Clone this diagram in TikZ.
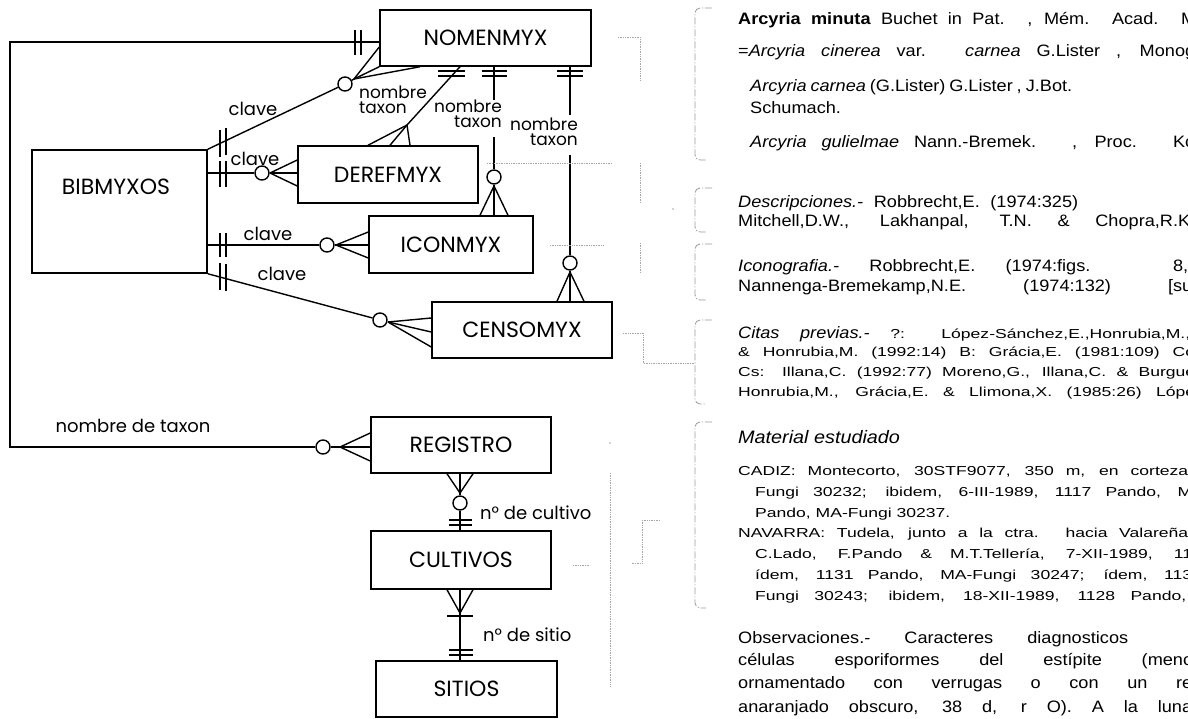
\documentclass[tikz,border=0pt]{standalone}
\usepackage{fontspec}
\setmainfont{Poppins}
\newfontfamily\rf[FakeStretch=1.1]{Liberation Sans}
\newfontfamily\rfs[FakeStretch=1.35]{Liberation Sans}
\usetikzlibrary{calc}
\begin{document}
\begin{tikzpicture}[x=1pt,y=-1pt,
  ent/.style={draw, line width=1.5pt, inner sep=0pt, font=\fontsize{22}{22}\selectfont},
  lbl/.style={font=\fontsize{18}{14}\selectfont, inner sep=0pt},
  nt/.style={font=\fontsize{17}{15}\selectfont, inner sep=0pt},
  ln/.style={line width=1.4pt},
  opt/.style={circle, draw, line width=1.4pt, minimum size=14pt, inner sep=0pt, fill=white},
  faint/.style={draw=black!35, line width=0.7pt, densely dotted},
  brk/.style={draw=black!40, line width=0.8pt, dash pattern=on 7pt off 2pt on 1pt off 2pt, rounded corners=5pt},
  rt/.style={font=\rf\fontsize{16.5}{18}\selectfont, inner sep=0pt, anchor=base west},
  rs/.style={font=\rfs\fontsize{13}{15}\selectfont, inner sep=0pt, anchor=base west}]
\useasboundingbox (0,0) rectangle (1188,718);
\clip (0,0) rectangle (1188,718);
\fill[white] (0,0) rectangle (1188,718);

% entities
\node[ent, minimum width=211pt, minimum height=56pt] (nomen) at (485.5,38) {NOMENMYX};
\node[ent, minimum width=175pt, minimum height=123pt] (bib) at (119.5,211.5) {};
\node[inner sep=0pt, font=\fontsize{22}{22}\selectfont] (bibt) at (116,187) {BIBMYXOS};
\node[ent, minimum width=180pt, minimum height=57pt] (deref) at (388,174.5) {DEREFMYX};
\node[ent, minimum width=164pt, minimum height=57pt] (icon) at (451,244.5) {ICONMYX};
\node[ent, minimum width=180pt, minimum height=56pt] (censo) at (522,330) {CENSOMYX};
\node[ent, minimum width=180pt, minimum height=56pt] (registro) at (461,445) {REGISTRO};
\node[ent, minimum width=180pt, minimum height=58pt] (cultivos) at (461,560) {CULTIVOS};
\node[ent, minimum width=181pt, minimum height=56pt] (sitios) at (466.5,689) {SITIOS};

% optional circles
\node[opt] (o1) at (345,84) {};
\node[opt] (o2) at (262,173) {};
\node[opt] (o3) at (327,245) {};
\node[opt] (o4) at (380,320) {};
\node[opt] (o5) at (323,447) {};
\node[opt] (o6) at (494,177) {};
\node[opt] (o7) at (570,263) {};
\node[opt] (o8) at (460,503) {};

% fork points and free ends
\coordinate (f1) at (354,79);
\coordinate (f2) at (270,173);
\coordinate (f3) at (336,245);
\coordinate (f4) at (388,322);
\coordinate (f5) at (340,447);
\coordinate (f6) at (407,125);
\coordinate (f7) at (494,186);
\coordinate (f8) at (570,272);
\coordinate (f9) at (460,493);
\coordinate (f10) at (460,613);
\coordinate (g1) at (494,100);
\coordinate (g2) at (494,137);
\coordinate (g3) at (570,115);
\coordinate (g4) at (570,155);

% NOMENMYX - REGISTRO (nombre de taxon)
\draw[ln] (nomen.west |- 0,42) -| (10,447) -- (o5);
\draw[ln] (o5) -- (registro.west |- 0,447);
\draw[ln] (f5) -- (registro.west |- 0,433);
\draw[ln] (f5) -- (registro.west |- 0,461);
\draw[ln] (355,30) -- (355,55) (361,30) -- (361,55);
\node[lbl, anchor=base] (ndt) at (133,432) {nombre de taxon};

% BIBMYXOS - NOMENMYX
\draw[ln] (bib.north east) -- (o1);
\draw[ln] (o1) -- (f1) -- (nomen.west |- 0,47);
\draw[ln] (f1) -- (nomen.south west);
\draw[ln] (f1) -- (420,0 |- nomen.south);
\draw[ln] (220,130) -- (220,157) (226,128) -- (226,155);
\node[lbl, anchor=base] (k1) at (253,115) {clave};

% BIBMYXOS - DEREFMYX
\draw[ln] (bib.east |- 0,173) -- (o2);
\draw[ln] (o2) -- (deref.west |- 0,173);
\draw[ln] (f2) -- (deref.west |- 0,160);
\draw[ln] (f2) -- (deref.west |- 0,186);
\draw[ln] (220,161) -- (220,187) (226,161) -- (226,187);
\node[lbl, anchor=base] (k2) at (255,165) {clave};

% BIBMYXOS - ICONMYX
\draw[ln] (bib.east |- 0,245) -- (o3);
\draw[ln] (o3) -- (icon.west |- 0,245);
\draw[ln] (f3) -- (icon.west |- 0,232);
\draw[ln] (f3) -- (icon.west |- 0,258);
\draw[ln] (220,233) -- (220,257) (226,233) -- (226,257);
\node[lbl, anchor=base] (k3) at (268,240) {clave};

% BIBMYXOS - CENSOMYX
\draw[ln] (bib.south east) -- (o4);
\draw[ln] (f4) -- (censo.west |- 0,318);
\draw[ln] (f4) -- (censo.west |- 0,332);
\draw[ln] (f4) -- (censo.west |- 0,347);
\draw[ln] (220,263) -- (220,290) (226,264) -- (226,291);
\node[lbl, anchor=base] (k4) at (282,280) {clave};

% NOMENMYX - DEREFMYX
\draw[ln] (460,0 |- nomen.south) -- (f6);
\draw[ln] (f6) -- (368,0 |- deref.north);
\draw[ln] (f6) -- (390,0 |- deref.north);
\draw[ln] (f6) -- (410,0 |- deref.north);
\draw[ln] (438,71) -- (465,71) (438,76) -- (465,76);
\node[nt, align=left, anchor=north west] (ntA) at (359,86) {nombre\\taxon};

% NOMENMYX - ICONMYX
\draw[ln] (494,0 |- nomen.south) -- (g1);
\draw[ln] (g2) -- (o6);
\draw[ln] (o6) -- (494,0 |- icon.north);
\draw[ln] (f7) -- (480,0 |- icon.north);
\draw[ln] (f7) -- (508,0 |- icon.north);
\draw[ln] (482,71) -- (507,71) (482,76) -- (507,76);
\node[nt, align=right, anchor=north east] (ntB) at (502,100) {nombre\\taxon};

% NOMENMYX - CENSOMYX
\draw[ln] (570,0 |- nomen.south) -- (g3);
\draw[ln] (g4) -- (o7);
\draw[ln] (o7) -- (570,0 |- censo.north);
\draw[ln] (f8) -- (557,0 |- censo.north);
\draw[ln] (f8) -- (584,0 |- censo.north);
\draw[ln] (557,71) -- (583,71) (557,76) -- (583,76);
\node[nt, align=right, anchor=north east] (ntC) at (578,118) {nombre\\taxon};

% REGISTRO - CULTIVOS
\draw[ln] (447,0 |- registro.south) -- (f9);
\draw[ln] (473,0 |- registro.south) -- (f9);
\draw[ln] (460,0 |- registro.south) -- (o8);
\draw[ln] (o8) -- (460,0 |- cultivos.north);
\draw[ln] (449,520) -- (472,520) (449,525) -- (472,525);
\node[lbl, anchor=base west] (nc) at (480,519) {n° de cultivo};

% CULTIVOS - SITIOS
\draw[ln] (447,0 |- cultivos.south) -- (f10);
\draw[ln] (473,0 |- cultivos.south) -- (f10);
\draw[ln] (460,0 |- cultivos.south) -- (460,0 |- sitios.north);
\draw[ln] (447,616) -- (473,616);
\draw[ln] (449,650) -- (473,650) (449,655) -- (473,655);
\node[lbl, anchor=base west] (ns) at (483,641) {n° de sitio};

% faint dotted traces
\draw[faint] (618,37) -- (640,37) -- (640,80);
\draw[faint] (487,163) -- (612,163);
\draw[faint] (640,163) -- (640,203);
\fill[black!35] (673,209) circle (0.8pt);
\draw[faint] (550,245) -- (603,245);
\draw[faint] (640,243) -- (640,273);
\draw[faint] (623,333) -- (643,333) -- (643,363) -- (695,363);
\fill[black!35] (610,443) circle (0.8pt);
\draw[faint] (610,473) -- (610,687);
\draw[faint] (573,565) -- (590,565);
\draw[faint] (642,520) -- (660,520);
\draw[faint] (642,520) -- (642,563) -- (632,563);

% brackets
\draw[brk] (712,8) -- (695,8) -- (695,160) -- (706,160);
\draw[brk] (712,188) -- (695,188) -- (695,232) -- (706,232);
\draw[brk] (712,244) -- (695,244) -- (695,300) -- (706,300);
\draw[brk] (712,320) -- (695,320) -- (695,404) -- (706,404);
\draw[brk] (712,422) -- (695,422) -- (695,608) -- (706,608);

% right text column
\node[rt] (t1) at (738,24) {\makebox[458pt][s]{\textbf{Arcyria minuta} Buchet in Pat. , Mém. Acad. M}};
\node[rt] (t2) at (738,56) {\makebox[457pt][s]{=\textit{Arcyria cinerea} var. \textit{carnea} G.Lister , Monog}};
\node[rt] (t3) at (750,91) {\makebox[322pt][s]{\textit{Arcyria carnea} (G.Lister) G.Lister , J.Bot.}};
\node[rt] (t4) at (750,113) {Schumach.};
\node[rt] (t5) at (750,147) {\makebox[444pt][s]{\textit{Arcyria gulielmae} Nann.-Bremek. , Proc. Kc}};
\node[rt] (t6) at (738,207) {\makebox[340pt][s]{\textit{Descripciones.-} Robbrecht,E. (1974:325)}};
\node[rt] (t7) at (738,226) {\makebox[452pt][s]{Mitchell,D.W., Lakhanpal, T.N. \& Chopra,R.K}};
\node[rt] (t8) at (738,271) {\makebox[450pt][s]{\textit{Iconografia.-} Robbrecht,E. (1974:figs. 8,}};
\node[rt] (t9) at (738,291) {\makebox[454pt][s]{Nannenga-Bremekamp,N.E. (1974:132) [su}};
\node[rt] (t10) at (738,338) {\makebox[452pt][s]{\textit{Citas previas.-} {\rfs\fontsize{13}{15}\selectfont ?: López-Sánchez,E.,Honrubia,M.,}}};
\node[rs] (t11) at (738,356) {\makebox[457pt][s]{\& Honrubia,M. (1992:14) B: Grácia,E. (1981:109) Co}};
\node[rs] (t12) at (738,376) {\makebox[457pt][s]{Cs: Illana,C. (1992:77) Moreno,G., Illana,C. \& Burgue}};
\node[rs] (t13) at (738,396) {\makebox[457pt][s]{Honrubia,M., Grácia,E. \& Llimona,X. (1985:26) Lópe}};
\node[rt, font=\rf\fontsize{18}{20}\selectfont] (t14) at (738,443) {\textit{Material estudiado}};
\node[rs] (t15) at (738,475) {\makebox[450pt][s]{CADIZ: Montecorto, 30STF9077, 350 m, en corteza}};
\node[rs] (t16) at (755,496) {\makebox[437pt][s]{Fungi 30232; ibidem, 6-III-1989, 1117 Pando, M}};
\node[rs] (t17) at (755,517) {Pando, MA-Fungi 30237.};
\node[rs] (t18) at (738,537) {\makebox[450pt][s]{NAVARRA: Tudela, junto a la ctra. hacia Valareña}};
\node[rs] (t19) at (755,558) {\makebox[437pt][s]{C.Lado, F.Pando \& M.T.Tellería, 7-XII-1989, 11}};
\node[rs] (t20) at (755,579) {\makebox[437pt][s]{ídem, 1131 Pando, MA-Fungi 30247; ídem, 113}};
\node[rs] (t21) at (755,600) {\makebox[431pt][s]{Fungi 30243; ibidem, 18-XII-1989, 1128 Pando,}};
\node[rt] (t22) at (738,643) {\makebox[390pt][s]{Observaciones.- Caracteres diagnosticos}};
\node[rt] (t23) at (738,665) {\makebox[454pt][s]{células esporiformes del estípite (menc}};
\node[rt] (t24) at (738,688) {\makebox[454pt][s]{ornamentado con verrugas o con un re}};
\node[rt] (t25) at (738,712) {\makebox[454pt][s]{anaranjado obscuro, 38 d, r O). A la luna}};
\end{tikzpicture}
\end{document}
